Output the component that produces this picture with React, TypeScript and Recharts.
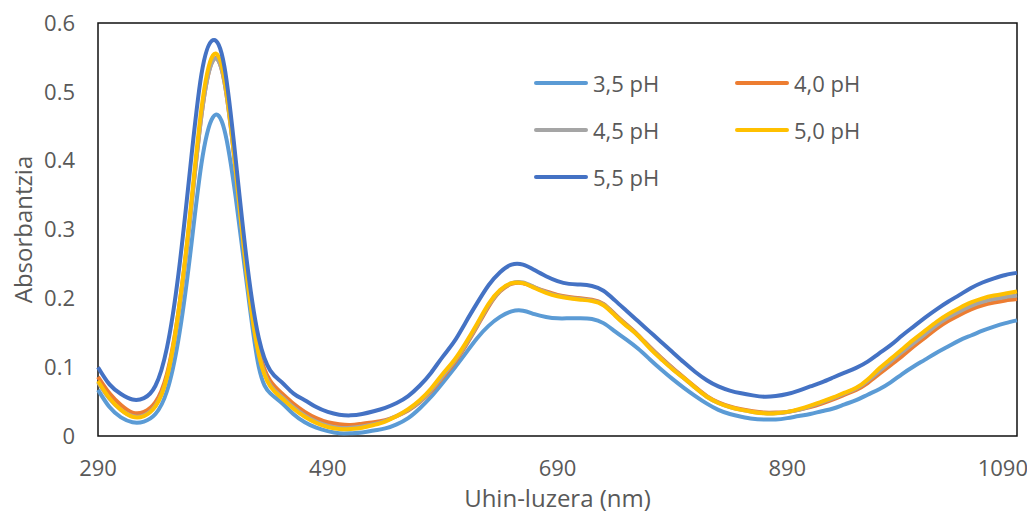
import React from "react";
import {
  LineChart,
  Line,
  XAxis,
  YAxis,
  ReferenceArea,
  Legend,
  Label,
} from "recharts";

// wavelength grid (nm)
const wavelengths = [
  290, 300, 310, 320, 330, 340, 350, 360, 370, 380,
  390, 400, 410, 420, 430, 440, 450, 460, 470, 480,
  490, 500, 510, 520, 530, 540, 550, 560, 570, 580,
  590, 600, 610, 620, 630, 640, 650, 660, 670, 680,
  690, 700, 710, 720, 730, 740, 750, 760, 770, 780,
  790, 800, 810, 820, 830, 840, 850, 860, 870, 880,
  890, 900, 910, 920, 930, 940, 950, 960, 970, 980,
  990, 1000, 1010, 1020, 1030, 1040, 1050, 1060, 1070, 1080,
  1090,
];

const ph35 = [
  0.067, 0.042, 0.027, 0.020, 0.021, 0.032, 0.065, 0.140, 0.260, 0.395,
  0.463, 0.445, 0.345, 0.215, 0.100, 0.062, 0.048, 0.032, 0.020, 0.012,
  0.007, 0.004, 0.004, 0.005, 0.008, 0.011, 0.017, 0.026, 0.040, 0.057,
  0.077, 0.098, 0.120, 0.142, 0.160, 0.173, 0.181, 0.182, 0.177, 0.173,
  0.171, 0.171, 0.171, 0.170, 0.164, 0.152, 0.140, 0.127, 0.112, 0.097,
  0.083, 0.070, 0.058, 0.047, 0.038, 0.032, 0.028, 0.025, 0.024, 0.024,
  0.026, 0.029, 0.032, 0.036, 0.040, 0.046, 0.052, 0.060, 0.068, 0.078,
  0.090, 0.101, 0.111, 0.121, 0.130, 0.139, 0.146, 0.153, 0.159, 0.164,
  0.168,
];

const ph40 = [
  0.086, 0.062, 0.045, 0.034, 0.035, 0.049, 0.090, 0.180, 0.315, 0.465,
  0.546, 0.515, 0.385, 0.235, 0.125, 0.080, 0.062, 0.047, 0.035, 0.026,
  0.020, 0.017, 0.016, 0.018, 0.020, 0.023, 0.029, 0.037, 0.049, 0.065,
  0.085, 0.106, 0.131, 0.159, 0.188, 0.210, 0.221, 0.222, 0.216, 0.210,
  0.205, 0.202, 0.200, 0.198, 0.192, 0.177, 0.162, 0.147, 0.130, 0.114,
  0.099, 0.085, 0.071, 0.058, 0.049, 0.043, 0.039, 0.036, 0.034, 0.034,
  0.035, 0.038, 0.042, 0.047, 0.053, 0.060, 0.067, 0.077, 0.090, 0.103,
  0.116, 0.130, 0.143, 0.156, 0.167, 0.176, 0.184, 0.190, 0.194, 0.197,
  0.199,
];

const ph45 = [
  0.078, 0.054, 0.038, 0.029, 0.030, 0.044, 0.085, 0.175, 0.312, 0.465,
  0.545, 0.515, 0.383, 0.230, 0.120, 0.074, 0.057, 0.042, 0.030, 0.021,
  0.015, 0.012, 0.012, 0.014, 0.017, 0.022, 0.029, 0.038, 0.050, 0.067,
  0.087, 0.108, 0.133, 0.161, 0.190, 0.211, 0.222, 0.223, 0.216, 0.209,
  0.204, 0.201, 0.199, 0.197, 0.191, 0.176, 0.161, 0.146, 0.129, 0.113,
  0.098, 0.084, 0.070, 0.057, 0.048, 0.042, 0.038, 0.035, 0.033, 0.033,
  0.035, 0.038, 0.043, 0.049, 0.055, 0.062, 0.069, 0.080, 0.094, 0.108,
  0.122, 0.135, 0.148, 0.161, 0.172, 0.181, 0.189, 0.195, 0.199, 0.202,
  0.204,
];

const ph50 = [
  0.080, 0.055, 0.038, 0.028, 0.029, 0.043, 0.085, 0.180, 0.320, 0.475,
  0.553, 0.520, 0.385, 0.228, 0.118, 0.072, 0.055, 0.040, 0.028, 0.019,
  0.013, 0.010, 0.010, 0.012, 0.016, 0.021, 0.029, 0.039, 0.052, 0.069,
  0.090, 0.110, 0.135, 0.163, 0.192, 0.212, 0.222, 0.222, 0.215, 0.208,
  0.203, 0.200, 0.198, 0.196, 0.190, 0.175, 0.160, 0.146, 0.128, 0.112,
  0.097, 0.084, 0.070, 0.057, 0.048, 0.042, 0.038, 0.035, 0.033, 0.033,
  0.035, 0.039, 0.044, 0.050, 0.056, 0.063, 0.070, 0.082, 0.098, 0.112,
  0.126, 0.140, 0.153, 0.166, 0.177, 0.186, 0.194, 0.200, 0.204, 0.207,
  0.210,
];

const ph55 = [
  0.100, 0.075, 0.061, 0.053, 0.055, 0.073, 0.128, 0.235, 0.385, 0.525,
  0.575, 0.537, 0.400, 0.248, 0.142, 0.095, 0.078, 0.062, 0.052, 0.042,
  0.035, 0.031, 0.030, 0.032, 0.036, 0.041, 0.048, 0.058, 0.073, 0.092,
  0.115, 0.137, 0.165, 0.193, 0.219, 0.238, 0.249, 0.249, 0.241, 0.232,
  0.225, 0.221, 0.220, 0.218, 0.211, 0.197, 0.182, 0.167, 0.152, 0.137,
  0.122, 0.107, 0.093, 0.081, 0.072, 0.066, 0.062, 0.059, 0.057, 0.058,
  0.061, 0.066, 0.072, 0.078, 0.085, 0.092, 0.099, 0.108, 0.120, 0.132,
  0.146, 0.159, 0.172, 0.184, 0.195, 0.205, 0.215, 0.223, 0.229, 0.234,
  0.237,
];

const seriesNames = ["3,5 pH", "4,0 pH", "4,5 pH", "5,0 pH", "5,5 pH"];
const seriesKeys = ["ph35", "ph40", "ph45", "ph50", "ph55"];
const seriesColors = ["#5B9BD5", "#ED7D31", "#A5A5A5", "#FFC000", "#4472C4"];
const seriesValues = [ph35, ph40, ph45, ph50, ph55];

const xTicks = [290, 490, 690, 890, 1090];
const yTicks = [0, 0.1, 0.2, 0.3, 0.4, 0.5, 0.6];

const data = wavelengths.map((nm, i) => {
  const row: Record<string, number> = { nm };
  seriesKeys.forEach((k, s) => {
    row[k] = seriesValues[s][i];
  });
  return row;
});

const FONT = "'Open Sans', sans-serif";
const TEXT = "#595959";

// last x label is pulled inside the chart, like the spreadsheet does
function XTick(props: any) {
  const { x, y, payload } = props;
  const last = payload.value === xTicks[xTicks.length - 1];
  return (
    <text
      x={last ? 1020 : x}
      y={y}
      dy="0.71em"
      textAnchor={last ? "end" : "middle"}
      fontSize={22}
      fill={TEXT}
      fontFamily={FONT}
    >
      {payload.value}
    </text>
  );
}

function LegendBox() {
  return (
    <div
      style={{
        display: "grid",
        gridTemplateColumns: "201px 201px",
        fontFamily: FONT,
        fontSize: 22,
        color: TEXT,
      }}
    >
      {seriesNames.map((name, i) => (
        <div key={name} style={{ height: 47, display: "flex", alignItems: "center" }}>
          <span
            style={{
              display: "inline-block",
              width: 54,
              height: 4,
              borderRadius: 2,
              background: seriesColors[i],
              marginRight: 5,
            }}
          />
          <span>{name}</span>
        </div>
      ))}
    </div>
  );
}

export default function App() {
  return (
    <div style={{ width: 1027, height: 508 }}>
      <LineChart
        width={1027}
        height={508}
        data={data}
        margin={{ top: 15, right: 18, bottom: 0, left: 0 }}
      >
        <XAxis
          dataKey="nm"
          type="number"
          domain={[290, 1090]}
          ticks={xTicks}
          axisLine={false}
          tickLine={false}
          tickMargin={18}
          height={80}
          tick={<XTick />}
        >
          <Label
            content={() => (
              <text
                x={549.5}
                y={499}
                textAnchor="middle"
                fontSize={24}
                fill={TEXT}
                fontFamily={FONT}
              >
                Uhin-luzera (nm)
              </text>
            )}
          />
        </XAxis>
        <YAxis
          type="number"
          domain={[0, 0.6]}
          ticks={yTicks}
          axisLine={false}
          tickLine={false}
          tickMargin={17}
          width={90}
          tickFormatter={(v: number) => (v === 0 ? "0" : v.toFixed(1))}
          tick={{ fontSize: 22, fill: TEXT, fontFamily: FONT }}
        >
          <Label
            content={() => (
              <text
                x={24}
                y={221.5}
                textAnchor="middle"
                transform="rotate(-90, 24, 221.5)"
                fontSize={24}
                fill={TEXT}
                fontFamily={FONT}
              >
                Absorbantzia
              </text>
            )}
          />
        </YAxis>
        <ReferenceArea
          x1={290}
          x2={1090}
          y1={0}
          y2={0.6}
          fill="none"
          fillOpacity={0}
          stroke="#111"
          strokeWidth={1.5}
          ifOverflow="visible"
        />
        {seriesKeys.map((k, i) => (
          <Line
            key={k}
            dataKey={k}
            name={seriesNames[i]}
            type="natural"
            stroke={seriesColors[i]}
            strokeWidth={4}
            dot={false}
            isAnimationActive={false}
          />
        ))}
        <Legend
          layout="horizontal"
          verticalAlign="middle"
          align="center"
          content={() => <LegendBox />}
          wrapperStyle={{ left: 526, top: 51.5, width: 420, height: 141 }}
        />
      </LineChart>
    </div>
  );
}
